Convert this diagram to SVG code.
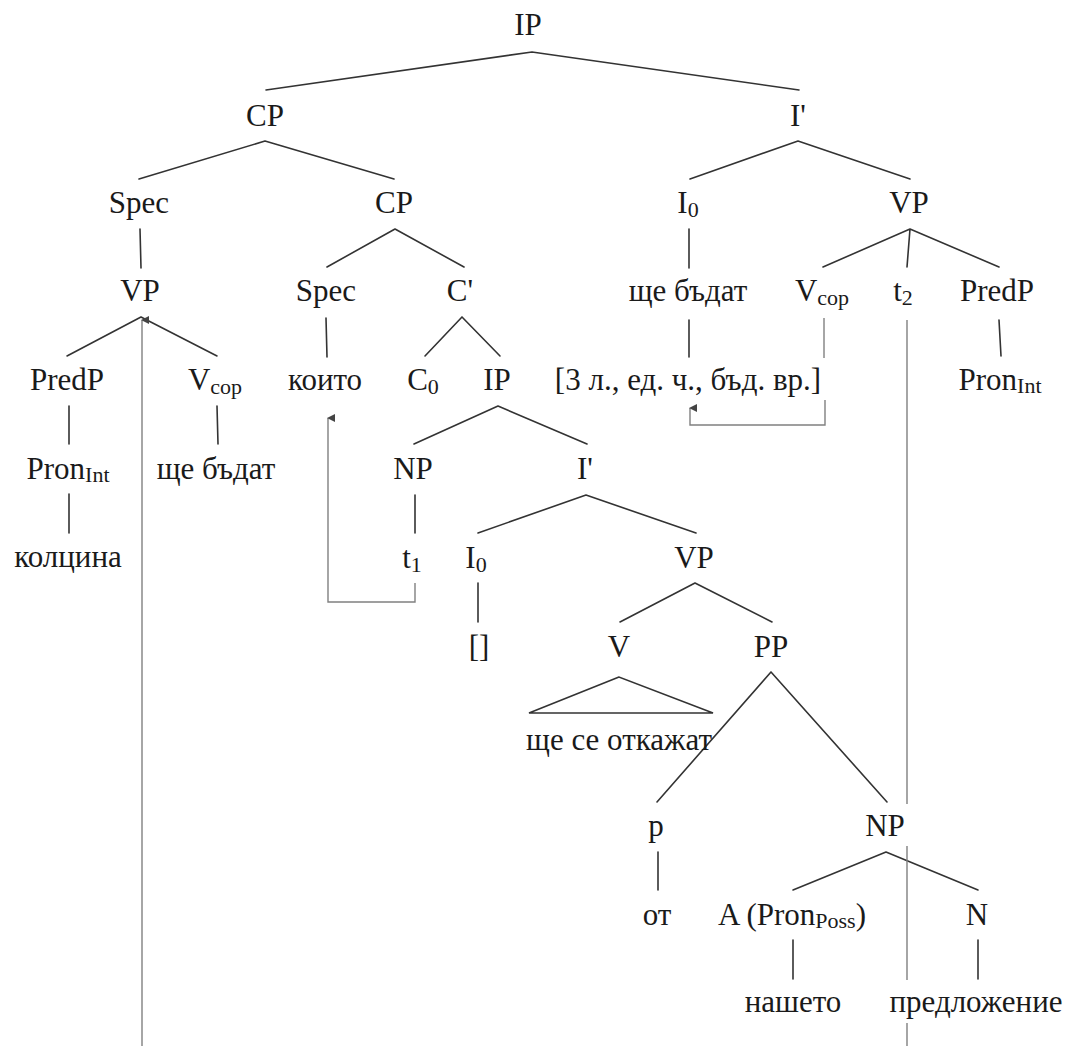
<svg xmlns="http://www.w3.org/2000/svg" width="1069" height="1046" viewBox="0 0 1069 1046">
<style>
  text { font-family: "Liberation Serif", "Times New Roman", serif; font-size: 31px; fill: #1a1a1a; text-anchor: middle; }
  .sub { font-size: 22px; }
  .edge { stroke: #333; stroke-width: 1.6; fill: none; stroke-linecap: round; }
  .move { stroke: #808080; stroke-width: 1.4; fill: none; }
</style>
<defs>
  <marker id="ah" markerWidth="8" markerHeight="8" refX="4" refY="1" orient="auto-start-reverse" markerUnits="userSpaceOnUse" viewBox="0 0 8 8">
    <path d="M0,8 L4,0 L8,8 Z" fill="#444"/>
  </marker>
</defs>
<rect width="1069" height="1046" fill="#fff"/>

<g id="connectors">
  <path class="edge" d="M532,52 L266,90 M532,52 L799,90"/>
  <path class="edge" d="M265,141 L139,179 M265,141 L394,179"/>
  <path class="edge" d="M798,141 L690,179 M798,141 L910,179"/>
  <path class="edge" d="M140,229 L141,268"/>
  <path class="edge" d="M395,229 L327,267 M395,229 L464,267"/>
  <path class="edge" d="M689,229 L689,268"/>
  <path class="edge" d="M910,229 L823,267 M910,229 L907,267 M910,229 L999,267"/>
  <path class="edge" d="M141,317 L67,356 M141,317 L217,356"/>
  <path class="edge" d="M326,318 L327,357"/>
  <path class="edge" d="M462,317 L425,356 M462,317 L500,356"/>
  <path class="edge" d="M689,320 L689,357"/>
  <path class="edge" d="M999,320 L1001,356"/>
  <path class="edge" d="M69,406 L69,444"/>
  <path class="edge" d="M217,406 L218,444"/>
  <path class="edge" d="M498,406 L414,444 M498,406 L587,444"/>
  <path class="edge" d="M69,494 L69,533"/>
  <path class="edge" d="M415,495 L415,533"/>
  <path class="edge" d="M586,495 L478,533 M586,495 L696,533"/>
  <path class="edge" d="M478,583 L478,622"/>
  <path class="edge" d="M695,583 L620,622 M695,583 L772,622"/>
  <path class="edge" d="M619,677 L529,713 L713,713 Z"/>
  <path class="edge" d="M771,672 L657,802 M771,672 L887,802"/>
  <path class="edge" d="M658,852 L658,890"/>
  <path class="edge" d="M886,852 L793,890 M886,852 L978,890"/>
  <path class="edge" d="M793,940 L793,979"/>
  <path class="edge" d="M978,940 L978,979"/>

  <!-- movement lines -->
  <path class="move" d="M142,1046 L142,320" marker-end="url(#ah)"/>
  <path class="move" d="M907,320 L907,804 M907,846 L907,980 M907,1023 L907,1046"/>
  <path class="move" d="M415,583 L415,602 L328,602 L328,418" marker-end="url(#ah)"/>
  <path class="move" d="M824,318 L824,358"/>
  <path class="move" d="M825,400 L825,425 L690,425 L690,408" marker-end="url(#ah)"/>
</g>

<g id="n-ip-root"><text x="528" y="35">IP</text></g>
<g id="n-cp-1"><text x="265" y="126">CP</text></g>
<g id="n-ibar-1"><text x="798" y="126">I'</text></g>
<g id="n-spec-1"><text x="139" y="213">Spec</text></g>
<g id="n-cp-2"><text x="394" y="213">CP</text></g>
<g id="n-i0-1"><text x="688" y="213">I<tspan class="sub" dy="4">0</tspan></text></g>
<g id="n-vp-1"><text x="909" y="213">VP</text></g>

<g id="n-vp-2"><text x="140" y="301">VP</text></g>
<g id="n-spec-2"><text x="326" y="301">Spec</text></g>
<g id="n-cbar"><text x="460" y="301">C'</text></g>
<g id="n-shte-1"><text x="688" y="301">ще бъдат</text></g>
<g id="n-vcop-1"><text x="822" y="301">V<tspan class="sub" dy="4">cop</tspan></text></g>
<g id="n-t2"><text x="903" y="301">t<tspan class="sub" dy="4">2</tspan></text></g>
<g id="n-predp-1"><text x="997" y="301">PredP</text></g>

<g id="n-predp-2"><text x="67" y="390">PredP</text></g>
<g id="n-vcop-2"><text x="215" y="390">V<tspan class="sub" dy="4">cop</tspan></text></g>
<g id="n-koito"><text x="325" y="390">които</text></g>
<g id="n-c0"><text x="423" y="390">C<tspan class="sub" dy="4">0</tspan></text></g>
<g id="n-ip-2"><text x="497" y="390">IP</text></g>
<g id="n-features"><text x="688" y="390">[3 л., ед. ч., бъд. вр.]</text></g>
<g id="n-pronint-1"><text x="1000" y="390">Pron<tspan class="sub" dy="3">Int</tspan></text></g>

<g id="n-pronint-2"><text x="68" y="479">Pron<tspan class="sub" dy="3">Int</tspan></text></g>
<g id="n-shte-2"><text x="216" y="479">ще бъдат</text></g>
<g id="n-np-1"><text x="413" y="479">NP</text></g>
<g id="n-ibar-2"><text x="585" y="479">I'</text></g>

<g id="n-koltsina"><text x="68" y="567">колцина</text></g>
<g id="n-t1"><text x="412" y="568">t<tspan class="sub" dy="4">1</tspan></text></g>
<g id="n-i0-2"><text x="476" y="568">I<tspan class="sub" dy="4">0</tspan></text></g>
<g id="n-vp-3"><text x="694" y="568">VP</text></g>

<g id="n-empty"><text x="479" y="657">[]</text></g>
<g id="n-v"><text x="619" y="657">V</text></g>
<g id="n-pp"><text x="771" y="657">PP</text></g>
<g id="n-otkazhat"><text x="619" y="750">ще се откажат</text></g>

<g id="n-p"><text x="656" y="836">p</text></g>
<g id="n-np-2"><text x="885" y="836">NP</text></g>

<g id="n-ot"><text x="657" y="925">от</text></g>
<g id="n-a"><text x="792" y="925">A (Pron<tspan class="sub" dy="3">Poss</tspan><tspan dy="-3">)</tspan></text></g>
<g id="n-n"><text x="977" y="925">N</text></g>

<g id="n-nasheto"><text x="793" y="1012">нашето</text></g>
<g id="n-predlozhenie"><text x="976" y="1012">предложение</text></g>
</svg>
